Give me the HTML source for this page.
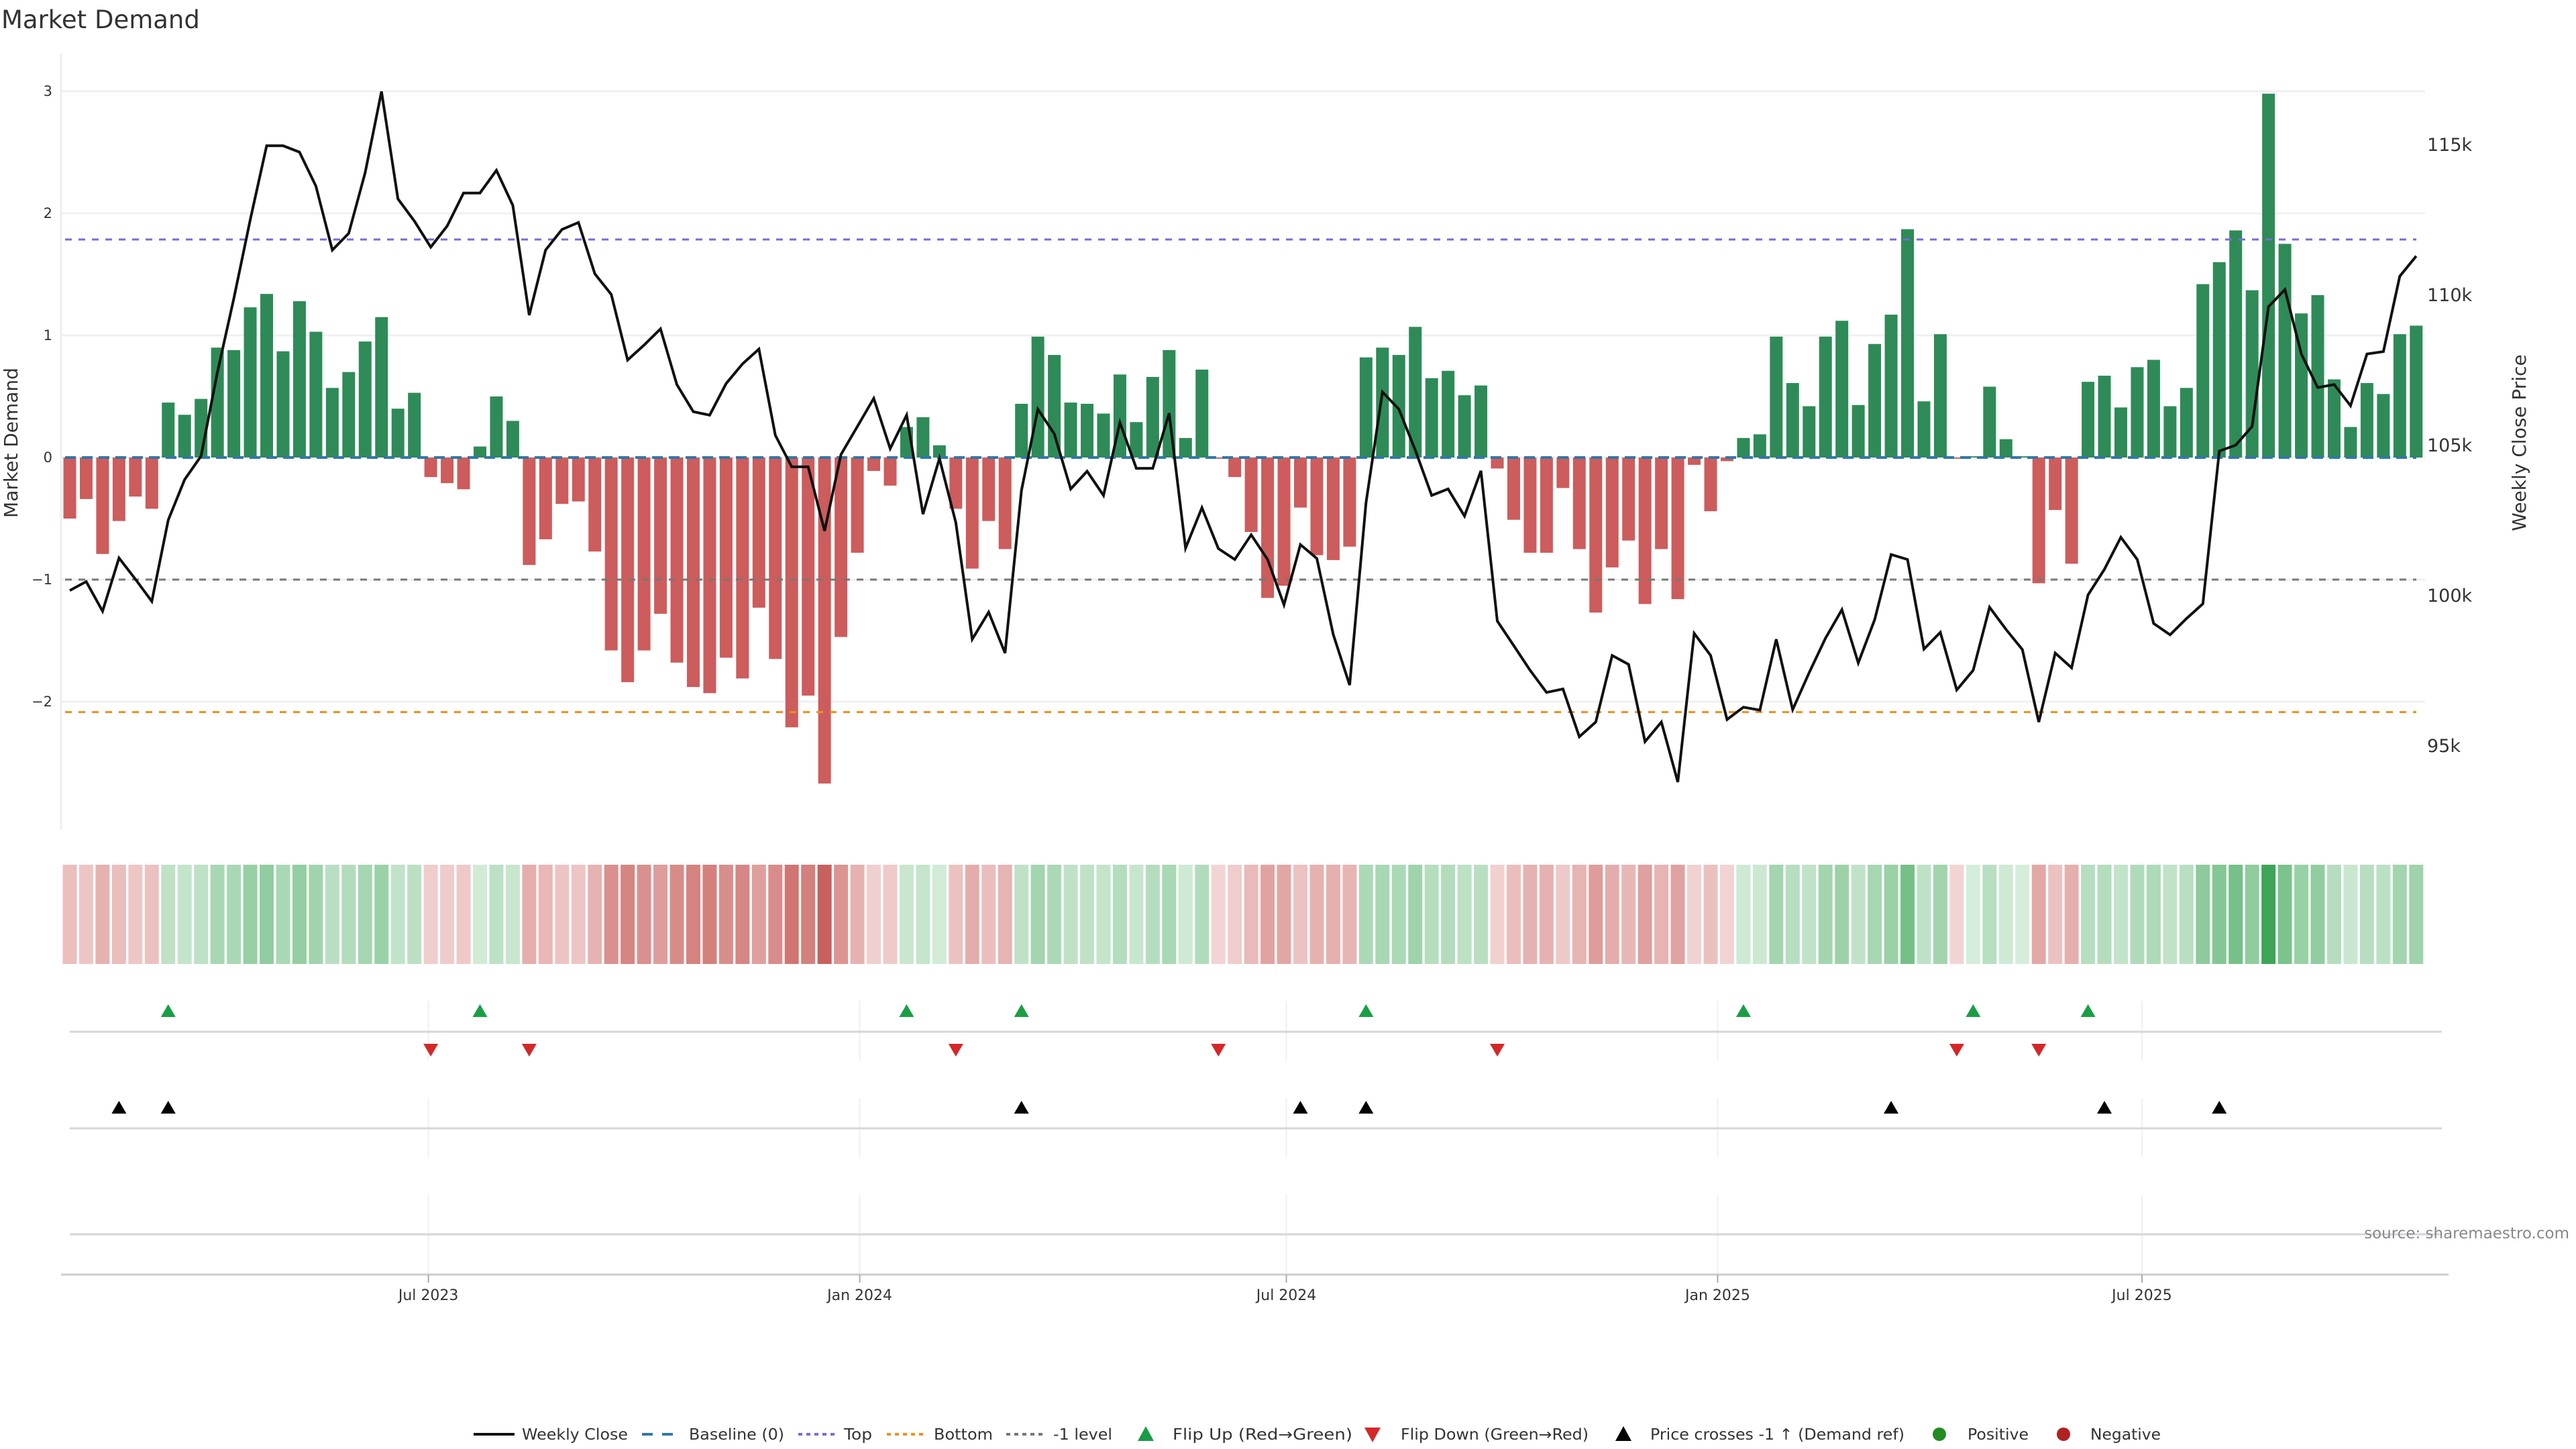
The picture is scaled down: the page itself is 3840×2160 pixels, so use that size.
<!DOCTYPE html>
<html><head><meta charset="utf-8"><title>Market Demand</title>
<style>
html,body{margin:0;padding:0;background:#fff;}
svg{display:block;font-family:"DejaVu Sans","Liberation Sans",sans-serif;}
</style></head>
<body>
<svg id="chart" width="3840" height="2160" viewBox="0 0 3840 2160" xmlns="http://www.w3.org/2000/svg">
<rect x="0" y="0" width="3840" height="2160" fill="#fff"/>
<text x="2" y="42" font-size="37" fill="#333">Market Demand</text>
<g id="grid"></g><g id="refs"></g><g id="bars"></g><g id="line"></g>
<g id="heat"></g><g id="markers"></g><g id="axes"></g><g id="legend"></g>
<text transform="translate(26,660) rotate(-90)" text-anchor="middle" font-size="28" fill="#333">Market Demand</text>
<text transform="translate(3765,660) rotate(-90)" text-anchor="middle" font-size="28" fill="#333">Weekly Close Price</text>
<text x="3830" y="1846" text-anchor="end" font-size="23" fill="#888">source: sharemaestro.com</text>
</svg>
<script>
const demand = [-0.50,-0.34,-0.79,-0.52,-0.32,-0.42,0.45,0.35,0.48,0.90,0.88,1.23,1.34,0.87,1.28,1.03,0.57,0.70,0.95,1.15,0.40,0.53,-0.16,-0.21,-0.26,0.09,0.50,0.30,-0.88,-0.67,-0.38,-0.36,-0.77,-1.58,-1.84,-1.58,-1.28,-1.68,
-1.88,-1.93,-1.64,-1.81,-1.23,-1.65,-2.21,-1.95,-2.67,-1.47,-0.78,-0.11,-0.23,0.25,0.33,0.10,-0.42,-0.91,-0.52,-0.75,0.44,0.99,0.84,0.45,0.44,0.36,0.68,0.29,0.66,0.88,0.16,0.72,-0.01,-0.16,-0.61,-1.15,-1.05,
-0.41,-0.80,-0.84,-0.73,0.82,0.90,0.84,1.07,0.65,0.71,0.51,0.59,-0.09,-0.51,-0.78,-0.78,-0.25,-0.75,-1.27,-0.90,-0.68,-1.20,-0.75,-1.16,-0.06,-0.44,-0.03,0.16,0.19,0.99,0.61,0.42,0.99,1.12,0.43,0.93,1.17,1.87,
0.46,1.01,-0.01,0.01,0.58,0.15,0.01,-1.03,-0.43,-0.87,0.62,0.67,0.41,0.74,0.80,0.42,0.57,1.42,1.60,1.86,1.37,2.98,1.75,1.18,1.33,0.64,0.25,0.61,0.52,1.01,1.08];
const price = [100152,100447,99463,101233,100529,99791,102495,103839,104626,107412,109871,112493,114952,114952,114739,113608,111477,112034,114050,116755,113182,112444,111575,112280,113378,113378,114132,112969,109314,111477,112165,112395,110690,110002,107822,108318,108855,107003,
106101,105986,107035,107691,108183,105314,104265,104265,102135,104675,105609,106544,104872,105986,102692,104544,102413,98529,99430,98070,103479,106183,105364,103528,104118,103315,105741,104216,104216,106052,101561,102905,101545,101184,102004,101184,99676,
101676,101217,98693,97004,103069,106757,106183,104823,103315,103528,102627,104134,99135,98316,97496,96759,96873,95284,95775,97988,97693,95120,95775,93776,98726,97988,95857,96267,96169,98529,96185,97414,98562,99512,97742,99185,101348,101184,
98201,98758,96841,97496,99594,98857,98185,95775,98070,97578,100004,100856,101922,101184,99053,98676,99217,99709,104790,104987,105609,109592,110166,108019,106904,107003,106298,108019,108101,110608,111280];
const flipUpIdx = [6,25,51,58,79,102,116,123];
const flipDownIdx = [22,28,54,70,87,115,120];
const crossIdx = [3,6,58,75,79,111,124,131];
const demandTicks = [-2,-1,0,1,2,3];
const priceTicks = [95000,100000,105000,110000,115000];
const priceTickLabels = ["95k","100k","105k","110k","115k"];
const xTickDates = ["2023-07-01","2024-01-01","2024-07-01","2025-01-01","2025-07-01"];
const xTickLabels = ["Jul 2023","Jan 2024","Jul 2024","Jan 2025","Jul 2025"];
const topLevel = 1.786, bottomLevel = -2.085, minusOneLevel = -1;

const NS="http://www.w3.org/2000/svg";
const X0=104, STEP=24.46, START=Date.UTC(2023,0,29);
const PL=91, PR=3615;
function xi(i){return X0+i*STEP;}
function xd(s){const d=new Date(s+"T00:00:00Z");return X0+(d-START)/864e5/7*STEP;}
function yD(v){return 682-v*182;}
function yP(p){return 663-(p-105000)/5000*224;}
function mk(tag,attrs,parent){const e=document.createElementNS(NS,tag);for(const k in attrs)e.setAttribute(k,attrs[k]);document.getElementById(parent).appendChild(e);return e;}

// grid + left ticks
demandTicks.forEach(v=>{
  const g=mk('line',{x1:PL,x2:PR,y1:yD(v),y2:yD(v),stroke:'#eef0f3','stroke-width':3},'grid');
  
  
  const t=mk('text',{x:78,y:yD(v)+7,'text-anchor':'end','font-size':21,fill:'#333'},'axes');
  t.textContent=(v<0?'\u2212':'')+Math.abs(v);
  
  
});
mk('line',{x1:PL,x2:PL,y1:80,y2:1237,stroke:'#eceef1','stroke-width':3},'grid');
priceTicks.forEach((p,k)=>{
  const t=mk('text',{x:3618,y:yP(p)+10,'font-size':27,fill:'#333'},'axes');
  t.textContent=priceTickLabels[k];
  
  
});
// reference lines
[[topLevel,'#7b6ad6','10,10','top-line'],[bottomLevel,'#f0901e','10,10','bottom-line'],[minusOneLevel,'#777','10,10','minus-one-level-line']].forEach(r=>{
  const l=mk('line',{x1:PL+6,x2:3602,y1:yD(r[0]),y2:yD(r[0]),stroke:r[1],'stroke-width':3,'stroke-dasharray':r[2]},'refs');
  
  
});
// bars
demand.forEach((v,i)=>{
  const y=Math.min(yD(v),yD(0)),h=Math.abs(yD(v)-yD(0));
  const b=mk('rect',{x:xi(i)-9.5,y:y,width:19,height:Math.max(h,1),fill:v>=0?'#2e8b57':'#cd5c5c'},'bars');
  
  
});
const base=mk('line',{x1:PL+6,x2:3602,y1:yD(0),y2:yD(0),stroke:'#2f78a8','stroke-width':4,'stroke-dasharray':'16,9'},'refs');


document.getElementById('refs').parentNode.appendChild(document.getElementById('refs'));
document.getElementById('line').parentNode.appendChild(document.getElementById('line'));
// price line
const pl=mk('polyline',{points:price.map((p,i)=>xi(i).toFixed(1)+','+yP(p).toFixed(1)).join(' '),fill:'none',stroke:'#111','stroke-width':4,'stroke-linejoin':'miter'},'line');


// heatmap
function mix(a,b,t){return 'rgb('+a.map((c,k)=>Math.round(c+(b[k]-c)*t)).join(',')+')';}
demand.forEach((v,i)=>{
  const c=v>=0?mix([214,237,219],[60,165,86],Math.min(v/3,1)):mix([242,212,212],[200,96,92],Math.min(-v/2.7,1));
  const r=mk('rect',{x:xi(i)-10.5,y:1289,width:21,height:148,fill:c},'heat');
  
  
});
// marker panels
[[1492,1581],[1637,1725],[1781,1900]].forEach(s=>{
  xTickDates.forEach(d=>{
    const l=mk('line',{x1:xd(d),x2:xd(d),y1:s[0],y2:s[1],stroke:'#eef0f3','stroke-width':2},'markers');
    
    
  });
});
[1538,1682,1840].forEach(y=>{
  const l=mk('line',{x1:104,x2:3640,y1:y,y2:y,stroke:'#d4d6da','stroke-width':3},'markers');
  
  
});
function tri(x,y,up,fill,name){
  const pts=up?[[x-11,y+9],[x+11,y+9],[x,y-10]]:[[x-11,y-9],[x+11,y-9],[x,y+10]];
  const p=mk('polygon',{points:pts.map(q=>q.join(',')).join(' '),fill:fill},'markers');
  
  
}
flipUpIdx.forEach(i=>tri(xi(i),1507,true,'#1a9e45','flip-up-marker'));
flipDownIdx.forEach(i=>tri(xi(i),1565,false,'#d62728','flip-down-marker'));
crossIdx.forEach(i=>tri(xi(i),1651,true,'#000','price-cross-marker'));
// x axis
mk('line',{x1:PL,x2:3650,y1:1900,y2:1900,stroke:'#ccc','stroke-width':3},'axes');
xTickDates.forEach((d,k)=>{
  mk('line',{x1:xd(d),x2:xd(d),y1:1900,y2:1912,stroke:'#aaa','stroke-width':2},'axes');
  const t=mk('text',{x:xd(d),y:1938,'text-anchor':'middle','font-size':22,fill:'#333'},'axes');
  t.textContent=xTickLabels[k];
  
  
});
// legend
const LY=2146, LC=2138;
function ltext(x,s,w){const t=mk('text',{x:x,y:LY,'font-size':23,fill:'#333',textLength:w,lengthAdjust:'spacingAndGlyphs'},'legend');t.textContent=s;}
mk('line',{x1:706,x2:767,y1:LC,y2:LC,stroke:'#111','stroke-width':4},'legend');ltext(778,'Weekly Close',158);
mk('line',{x1:957,x2:1006,y1:LC,y2:LC,stroke:'#2f78a8','stroke-width':4,'stroke-dasharray':'16,14'},'legend');ltext(1027,'Baseline (0)',142);
mk('line',{x1:1190,x2:1245,y1:LC,y2:LC,stroke:'#7b6ad6','stroke-width':4,'stroke-dasharray':'6,6'},'legend');ltext(1258,'Top',42);
mk('line',{x1:1322,x2:1377,y1:LC,y2:LC,stroke:'#f0901e','stroke-width':4,'stroke-dasharray':'6,6'},'legend');ltext(1392,'Bottom',88);
mk('line',{x1:1500,x2:1555,y1:LC,y2:LC,stroke:'#777','stroke-width':4,'stroke-dasharray':'6,6'},'legend');ltext(1570,'-1 level',88);
mk('polygon',{points:'1696,2148 1720,2148 1708,2126',fill:'#1a9e45'},'legend');ltext(1748,'Flip Up (Red\u2192Green)',268);
mk('polygon',{points:'2034,2128 2058,2128 2046,2150',fill:'#d62728'},'legend');ltext(2088,'Flip Down (Green\u2192Red)',280);
mk('polygon',{points:'2408,2148 2432,2148 2420,2126',fill:'#000'},'legend');ltext(2460,'Price crosses -1 \u2191 (Demand ref)',379);
mk('circle',{cx:2891,cy:LC,r:10,fill:'#228b22'},'legend');ltext(2933,'Positive',91);
mk('circle',{cx:3076,cy:LC,r:10,fill:'#b22222'},'legend');ltext(3116,'Negative',105);
</script>
</body></html>
